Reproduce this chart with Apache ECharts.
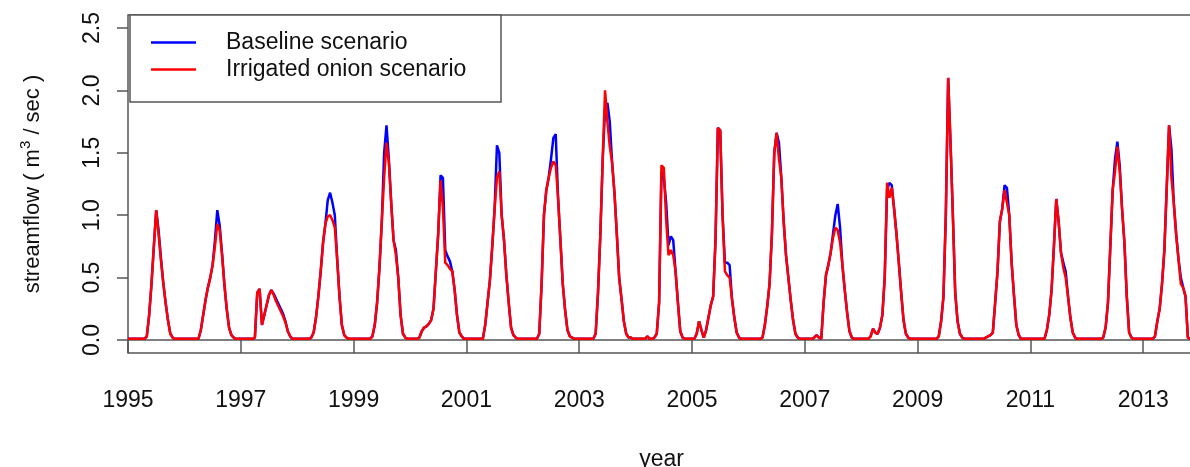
<!DOCTYPE html>
<html>
<head>
<meta charset="utf-8">
<script src="https://cdn.jsdelivr.net/npm/echarts@6/dist/echarts.min.js"></script>
<style>
  html, body { margin: 0; padding: 0; background: #fff; }
  #chart { width: 1190px; height: 467px; }
</style>
</head>
<body>
<div id="chart"></div>
<script>
// semi-monthly streamflow (m3/sec), 24 values per year, 1995..2013
const baseline = [
  0.01,0.01,0.01,0.01,0.01,0.01,0.01,0.01,0.03,0.2,0.45,0.75,1.04,0.88,0.66,0.46,0.3,0.16,0.05,0.02,0.01,0.01,0.01,0.01,
  0.01,0.01,0.01,0.01,0.01,0.01,0.01,0.08,0.2,0.32,0.42,0.5,0.6,0.8,1.04,0.92,0.7,0.45,0.25,0.1,0.04,0.02,0.01,0.01,
  0.01,0.01,0.01,0.01,0.01,0.01,0.02,0.38,0.41,0.12,0.2,0.28,0.36,0.4,0.37,0.33,0.29,0.25,0.21,0.15,0.07,0.03,0.01,0.01,
  0.01,0.01,0.01,0.01,0.01,0.01,0.02,0.06,0.18,0.35,0.55,0.78,0.93,1.12,1.18,1.1,1.0,0.65,0.35,0.12,0.04,0.02,0.01,0.01,
  0.01,0.01,0.01,0.01,0.01,0.01,0.01,0.01,0.03,0.12,0.3,0.58,0.95,1.5,1.72,1.45,1.1,0.8,0.72,0.5,0.2,0.05,0.02,0.01,
  0.01,0.01,0.01,0.01,0.02,0.07,0.1,0.11,0.13,0.16,0.25,0.55,0.85,1.32,1.3,0.72,0.67,0.63,0.55,0.4,0.2,0.06,0.03,0.01,
  0.01,0.01,0.01,0.01,0.01,0.01,0.01,0.01,0.12,0.3,0.48,0.75,1.05,1.56,1.5,1.0,0.8,0.52,0.3,0.1,0.04,0.02,0.01,0.01,
  0.01,0.01,0.01,0.01,0.01,0.01,0.01,0.05,0.45,1.0,1.2,1.3,1.45,1.62,1.65,1.14,0.8,0.45,0.24,0.08,0.03,0.02,0.01,0.01,
  0.01,0.01,0.01,0.01,0.01,0.01,0.01,0.05,0.38,0.85,1.45,1.85,1.9,1.75,1.42,1.18,0.85,0.5,0.33,0.15,0.05,0.02,0.02,0.01,
  0.01,0.01,0.01,0.01,0.01,0.03,0.01,0.01,0.02,0.05,0.3,1.35,1.3,1.1,0.76,0.83,0.8,0.55,0.3,0.07,0.02,0.01,0.01,0.01,
  0.01,0.01,0.05,0.15,0.08,0.02,0.08,0.18,0.28,0.35,0.8,1.7,1.68,1.0,0.62,0.62,0.6,0.33,0.18,0.06,0.02,0.01,0.01,0.01,
  0.01,0.01,0.01,0.01,0.01,0.01,0.02,0.12,0.27,0.45,0.85,1.5,1.66,1.58,1.3,0.95,0.68,0.5,0.32,0.16,0.05,0.02,0.01,0.01,
  0.01,0.01,0.01,0.01,0.02,0.04,0.02,0.01,0.3,0.52,0.6,0.7,0.85,1.0,1.09,0.9,0.6,0.4,0.22,0.07,0.02,0.01,0.01,0.01,
  0.01,0.01,0.01,0.01,0.03,0.09,0.06,0.05,0.1,0.2,0.5,1.2,1.26,1.24,1.05,0.85,0.62,0.38,0.16,0.05,0.02,0.01,0.01,0.01,
  0.01,0.01,0.01,0.01,0.01,0.01,0.01,0.01,0.01,0.03,0.15,0.35,1.0,2.1,1.58,1.0,0.38,0.15,0.05,0.02,0.01,0.01,0.01,0.01,
  0.01,0.01,0.01,0.01,0.01,0.02,0.03,0.04,0.06,0.3,0.55,0.95,1.05,1.24,1.22,1.0,0.62,0.36,0.12,0.04,0.01,0.01,0.01,0.01,
  0.01,0.01,0.01,0.01,0.01,0.01,0.01,0.08,0.2,0.4,0.75,1.13,0.95,0.7,0.62,0.55,0.35,0.18,0.06,0.02,0.01,0.01,0.01,0.01,
  0.01,0.01,0.01,0.01,0.01,0.01,0.01,0.02,0.1,0.3,0.75,1.2,1.45,1.59,1.4,1.05,0.78,0.35,0.06,0.02,0.01,0.01,0.01,0.01,
  0.01,0.01,0.01,0.01,0.01,0.03,0.15,0.25,0.45,0.72,1.22,1.72,1.53,1.1,0.85,0.65,0.5,0.42,0.35,0.02,0.01,0.01,0.01,0.01
];

const irrigated = [
  0.01,0.01,0.01,0.01,0.01,0.01,0.01,0.01,0.03,0.2,0.45,0.75,1.04,0.85,0.64,0.46,0.3,0.16,0.05,0.02,0.01,0.01,0.01,0.01,
  0.01,0.01,0.01,0.01,0.01,0.01,0.01,0.08,0.2,0.32,0.42,0.5,0.6,0.75,0.93,0.88,0.68,0.45,0.25,0.1,0.04,0.02,0.01,0.01,
  0.01,0.01,0.01,0.01,0.01,0.01,0.02,0.38,0.41,0.12,0.2,0.28,0.36,0.4,0.36,0.31,0.27,0.23,0.19,0.14,0.07,0.03,0.01,0.01,
  0.01,0.01,0.01,0.01,0.01,0.01,0.02,0.06,0.18,0.35,0.55,0.78,0.93,0.99,1.0,0.96,0.9,0.65,0.35,0.12,0.04,0.02,0.01,0.01,
  0.01,0.01,0.01,0.01,0.01,0.01,0.01,0.01,0.03,0.12,0.3,0.58,0.95,1.3,1.58,1.42,1.1,0.8,0.68,0.5,0.2,0.05,0.02,0.01,
  0.01,0.01,0.01,0.01,0.02,0.07,0.1,0.11,0.13,0.16,0.25,0.55,0.85,1.28,1.06,0.62,0.6,0.57,0.55,0.4,0.2,0.06,0.03,0.01,
  0.01,0.01,0.01,0.01,0.01,0.01,0.01,0.01,0.12,0.3,0.48,0.75,1.05,1.3,1.35,1.0,0.8,0.52,0.3,0.1,0.04,0.02,0.01,0.01,
  0.01,0.01,0.01,0.01,0.01,0.01,0.01,0.05,0.45,1.0,1.2,1.3,1.38,1.43,1.4,1.14,0.8,0.45,0.24,0.08,0.03,0.02,0.01,0.01,
  0.01,0.01,0.01,0.01,0.01,0.01,0.01,0.05,0.38,0.85,1.45,2.0,1.75,1.55,1.42,1.18,0.85,0.5,0.33,0.15,0.05,0.02,0.02,0.01,
  0.01,0.01,0.01,0.01,0.01,0.03,0.01,0.01,0.02,0.05,0.3,1.4,1.38,0.96,0.68,0.72,0.68,0.55,0.3,0.07,0.02,0.01,0.01,0.01,
  0.01,0.01,0.05,0.15,0.08,0.02,0.08,0.18,0.28,0.35,0.8,1.7,1.68,1.0,0.55,0.52,0.5,0.33,0.18,0.06,0.02,0.01,0.01,0.01,
  0.01,0.01,0.01,0.01,0.01,0.01,0.02,0.12,0.27,0.45,0.85,1.5,1.66,1.45,1.3,0.95,0.68,0.5,0.32,0.16,0.05,0.02,0.01,0.01,
  0.01,0.01,0.01,0.01,0.02,0.04,0.02,0.01,0.3,0.52,0.6,0.7,0.82,0.9,0.88,0.78,0.6,0.4,0.22,0.07,0.02,0.01,0.01,0.01,
  0.01,0.01,0.01,0.01,0.03,0.09,0.06,0.05,0.1,0.2,0.5,1.26,1.14,1.22,1.05,0.85,0.62,0.38,0.16,0.05,0.02,0.01,0.01,0.01,
  0.01,0.01,0.01,0.01,0.01,0.01,0.01,0.01,0.01,0.03,0.15,0.35,1.0,2.1,1.58,1.0,0.38,0.15,0.05,0.02,0.01,0.01,0.01,0.01,
  0.01,0.01,0.01,0.01,0.01,0.02,0.03,0.04,0.06,0.3,0.55,0.95,1.05,1.2,1.1,1.0,0.62,0.36,0.12,0.04,0.01,0.01,0.01,0.01,
  0.01,0.01,0.01,0.01,0.01,0.01,0.01,0.08,0.2,0.4,0.75,1.13,0.95,0.7,0.58,0.5,0.35,0.18,0.06,0.02,0.01,0.01,0.01,0.01,
  0.01,0.01,0.01,0.01,0.01,0.01,0.01,0.02,0.1,0.3,0.75,1.2,1.35,1.55,1.35,1.05,0.78,0.35,0.06,0.02,0.01,0.01,0.01,0.01,
  0.01,0.01,0.01,0.01,0.01,0.03,0.15,0.25,0.45,0.72,1.22,1.72,1.3,1.1,0.85,0.65,0.45,0.42,0.35,0.02,0.01,0.01,0.01,0.01
];

const startYear = 1995;
const stepsPerYear = 24;
const xTicks = [1995, 1997, 1999, 2001, 2003, 2005, 2007, 2009, 2011, 2013];
const yTicks = [0, 0.5, 1, 1.5, 2, 2.5];

const font = 'Liberation Sans, Arial, sans-serif';

function toPoints(arr) {
  return arr.map((v, i) => [startYear + i / stepsPerYear, v]);
}

let myChart = echarts.init(document.getElementById('chart'));
let option = {
  animation: false,
  backgroundColor: '#fff',
  textStyle: { fontFamily: font },
  grid: {
    left: 128, top: 15, right: -5, bottom: 114,
    outerBoundsMode: 'none', containLabel: false,
    show: true, borderColor: '#555', borderWidth: 1.5
  },
  legend: {
    left: 130, top: 15, orient: 'vertical',
    backgroundColor: '#fff', borderColor: '#555', borderWidth: 1.5,
    padding: [16, 0, 21, 21],
    icon: 'rect', itemWidth: 45, itemHeight: 2.5, itemGap: 4,
    textStyle: { fontFamily: font, fontSize: 23, color: '#111', lineHeight: 22, padding: [0, 0, 0, 25], width: 275 },
    data: ['Baseline scenario', 'Irrigated onion scenario']
  },
  xAxis: {
    type: 'value', min: 1995, max: 2013.918,
    name: 'year', nameLocation: 'middle', nameGap: 95,
    nameTextStyle: { fontFamily: font, fontSize: 23, color: '#111' },
    axisLine: { show: true, lineStyle: { color: '#555', width: 1.5 } },
    axisTick: { show: true, length: 13, customValues: xTicks, lineStyle: { color: '#555', width: 1.5 } },
    axisLabel: {
      customValues: xTicks, fontFamily: font, fontSize: 23, color: '#111', margin: 36,
      formatter: v => String(v)
    },
    splitLine: { show: false }
  },
  yAxis: {
    type: 'value', min: -0.104, max: 2.604,
    name: 'streamflow ( m{sup|3} / sec )', nameLocation: 'middle', nameGap: 80, nameRotate: 90,
    nameTextStyle: {
      fontFamily: font, fontSize: 22, color: '#111', lineHeight: 30,
      rich: { sup: { fontFamily: font, fontSize: 15, color: '#111', verticalAlign: 'top', lineHeight: 15 } }
    },
    axisLine: { show: false },
    axisTick: { show: true, length: 11, customValues: yTicks, lineStyle: { color: '#555', width: 1.5 } },
    axisLabel: {
      customValues: yTicks, rotate: 90, fontFamily: font, fontSize: 23, color: '#111', margin: 24,
      formatter: v => v.toFixed(1)
    },
    splitLine: { show: false }
  },
  series: [
    {
      name: 'Baseline scenario', type: 'line', symbol: 'none',
      lineStyle: { color: '#0000ff', width: 2.5 }, itemStyle: { color: '#0000ff' },
      data: toPoints(baseline)
    },
    {
      name: 'Irrigated onion scenario', type: 'line', symbol: 'none',
      lineStyle: { color: '#ff0000', width: 2.5 }, itemStyle: { color: '#ff0000' },
      data: toPoints(irrigated)
    }
  ]
};
myChart.setOption(option);
</script>
</body>
</html>
